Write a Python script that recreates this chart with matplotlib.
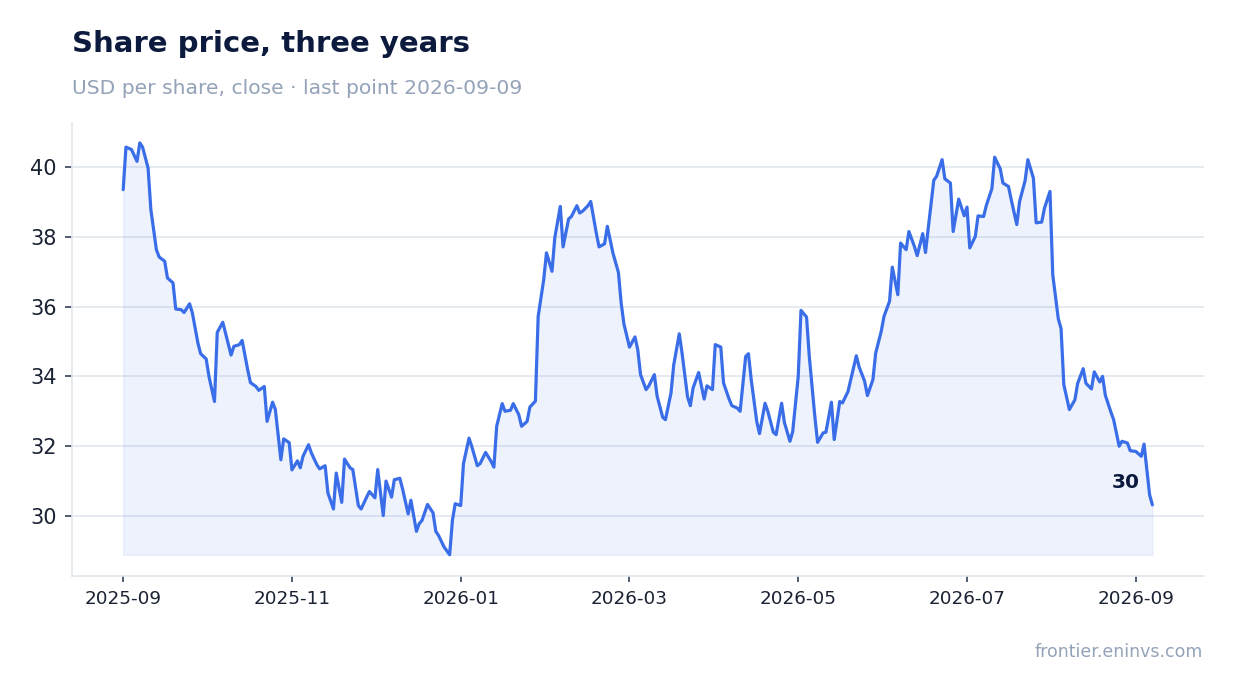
import matplotlib
matplotlib.use("Agg")
import matplotlib.pyplot as plt
import matplotlib.dates as mdates
import numpy as np
import pandas as pd

# ---- data ----
dates = [
    "2025-09-01","2025-09-02","2025-09-04","2025-09-06","2025-09-07","2025-09-08","2025-09-10","2025-09-11",
    "2025-09-13","2025-09-14","2025-09-16","2025-09-17","2025-09-19","2025-09-20","2025-09-22","2025-09-23",
    "2025-09-25","2025-09-26","2025-09-28","2025-09-29","2025-10-01","2025-10-02","2025-10-04","2025-10-05",
    "2025-10-07","2025-10-08","2025-10-10","2025-10-11","2025-10-13","2025-10-14","2025-10-16","2025-10-17",
    "2025-10-19","2025-10-20","2025-10-22","2025-10-23","2025-10-25","2025-10-26","2025-10-28","2025-10-29",
    "2025-10-31","2025-11-01","2025-11-03","2025-11-04","2025-11-05","2025-11-07","2025-11-08","2025-11-10",
    "2025-11-11","2025-11-13","2025-11-14","2025-11-16","2025-11-17","2025-11-19","2025-11-20","2025-11-22",
    "2025-11-23","2025-11-25","2025-11-26","2025-11-28","2025-11-29","2025-12-01","2025-12-02","2025-12-04",
    "2025-12-05","2025-12-07","2025-12-08","2025-12-10","2025-12-11","2025-12-13","2025-12-14","2025-12-16",
    "2025-12-17","2025-12-18","2025-12-20","2025-12-22","2025-12-23","2025-12-24","2025-12-26","2025-12-28",
    "2025-12-29","2025-12-30","2026-01-01","2026-01-02","2026-01-04","2026-01-05","2026-01-07","2026-01-08",
    "2026-01-10","2026-01-12","2026-01-13","2026-01-14","2026-01-16","2026-01-17","2026-01-19","2026-01-20",
    "2026-01-22","2026-01-23","2026-01-25","2026-01-26","2026-01-28","2026-01-29","2026-01-31","2026-02-01",
    "2026-02-03","2026-02-04","2026-02-06","2026-02-07","2026-02-09","2026-02-10","2026-02-12","2026-02-13",
    "2026-02-14","2026-02-16","2026-02-17","2026-02-19","2026-02-20","2026-02-22","2026-02-23","2026-02-25",
    "2026-02-27","2026-02-28","2026-03-01","2026-03-03","2026-03-05","2026-03-06","2026-03-07","2026-03-09",
    "2026-03-10","2026-03-12","2026-03-13","2026-03-15","2026-03-16","2026-03-18","2026-03-19","2026-03-21",
    "2026-03-22","2026-03-24","2026-03-25","2026-03-26","2026-03-28","2026-03-30","2026-03-31","2026-04-02",
    "2026-04-03","2026-04-05","2026-04-06","2026-04-08","2026-04-09","2026-04-11","2026-04-12","2026-04-14",
    "2026-04-15","2026-04-16","2026-04-18","2026-04-19","2026-04-21","2026-04-22","2026-04-24","2026-04-25",
    "2026-04-27","2026-04-28","2026-04-30","2026-05-01","2026-05-03","2026-05-04","2026-05-06","2026-05-07",
    "2026-05-09","2026-05-10","2026-05-12","2026-05-13","2026-05-15","2026-05-16","2026-05-18","2026-05-19",
    "2026-05-21","2026-05-22","2026-05-24","2026-05-25","2026-05-27","2026-05-28","2026-05-30","2026-05-31",
    "2026-06-02","2026-06-03","2026-06-05","2026-06-06","2026-06-08","2026-06-09","2026-06-11","2026-06-12",
    "2026-06-14","2026-06-15","2026-06-17","2026-06-18","2026-06-19","2026-06-21","2026-06-22","2026-06-24",
    "2026-06-25","2026-06-27","2026-06-28","2026-06-30","2026-07-02","2026-07-03","2026-07-04","2026-07-06",
    "2026-07-07","2026-07-09","2026-07-10","2026-07-12","2026-07-13","2026-07-15","2026-07-16","2026-07-18",
    "2026-07-19","2026-07-21","2026-07-22","2026-07-24","2026-07-25","2026-07-27","2026-07-28","2026-07-30",
    "2026-07-31","2026-08-02","2026-08-03","2026-08-05","2026-08-06","2026-08-07","2026-08-09","2026-08-11",
    "2026-08-12","2026-08-14","2026-08-15","2026-08-17","2026-08-18","2026-08-20","2026-08-21","2026-08-22",
    "2026-08-24","2026-08-25","2026-08-27","2026-08-28","2026-08-30","2026-08-31","2026-09-02","2026-09-04",
    "2026-09-05","2026-09-07","2026-09-08",
]
close = [
    39.35, 40.57, 40.50, 40.16, 40.69, 40.57, 39.97, 38.78,
    37.63, 37.42, 37.30, 36.82, 36.68, 35.93, 35.91, 35.83,
    36.08, 35.82, 34.96, 34.65, 34.50, 34.00, 33.28, 35.26,
    35.55, 35.24, 34.61, 34.86, 34.91, 35.03, 34.19, 33.82,
    33.71, 33.60, 33.71, 32.71, 33.26, 33.05, 31.61, 32.21,
    32.10, 31.32, 31.58, 31.38, 31.71, 32.04, 31.81, 31.47,
    31.35, 31.44, 30.66, 30.20, 31.23, 30.39, 31.63, 31.38,
    31.33, 30.30, 30.20, 30.54, 30.70, 30.52, 31.33, 30.01,
    31.00, 30.54, 31.04, 31.08, 30.77, 30.06, 30.45, 29.56,
    29.78, 29.87, 30.33, 30.09, 29.56, 29.44, 29.11, 28.89,
    29.87, 30.35, 30.30, 31.50, 32.23, 31.99, 31.44, 31.50,
    31.82, 31.56, 31.40, 32.57, 33.22, 33.00, 33.03, 33.22,
    32.90, 32.57, 32.71, 33.12, 33.29, 35.72, 36.77, 37.54,
    37.01, 37.97, 38.87, 37.71, 38.51, 38.58, 38.89, 38.68,
    38.73, 38.89, 39.01, 38.11, 37.71, 37.80, 38.30, 37.54,
    36.98, 36.10, 35.50, 34.84, 35.13, 34.76, 34.05, 33.62,
    33.73, 34.05, 33.43, 32.83, 32.76, 33.52, 34.33, 35.22,
    34.67, 33.41, 33.16, 33.67, 34.11, 33.35, 33.73, 33.62,
    34.91, 34.84, 33.81, 33.35, 33.16, 33.09, 33.00, 34.57,
    34.65, 33.91, 32.71, 32.36, 33.23, 33.00, 32.40, 32.33,
    33.23, 32.68, 32.14, 32.42, 34.00, 35.89, 35.70, 34.57,
    32.85, 32.11, 32.38, 32.40, 33.26, 32.19, 33.28, 33.24,
    33.57, 33.91, 34.59, 34.27, 33.86, 33.45, 33.91, 34.67,
    35.29, 35.72, 36.15, 37.13, 36.34, 37.82, 37.63, 38.15,
    37.72, 37.46, 38.09, 37.55, 38.25, 39.62, 39.73, 40.21,
    39.66, 39.54, 38.15, 39.08, 38.60, 38.85, 37.68, 38.01,
    38.60, 38.58, 38.90, 39.38, 40.28, 39.95, 39.54, 39.44,
    39.06, 38.35, 39.01, 39.61, 40.21, 39.68, 38.40, 38.42,
    38.82, 39.30, 36.91, 35.65, 35.37, 33.76, 33.05, 33.33,
    33.80, 34.22, 33.80, 33.64, 34.13, 33.84, 34.00, 33.46,
    32.98, 32.76, 32.00, 32.14, 32.09, 31.87, 31.85, 31.71,
    32.06, 30.61, 30.32,
]
tick_dates = ["2025-09-01", "2025-11-01", "2026-01-01", "2026-03-03",
              "2026-05-03", "2026-07-03", "2026-09-02"]
y_ticks = [30, 32, 34, 36, 38, 40]

title = "Share price, three years"
subtitle = "USD per share, close \u00b7 last point 2026-09-09"
source = "frontier.eninvs.com"

# ---- styling ----
LINE = "#3a6ee8"
NAVY = "#0c1a3d"
GRAY = "#94a3b8"
GRID = "#e2e8f0"
TICK = "#1a2233"

plt.rcParams["font.family"] = ["DejaVu Sans"]

x = pd.to_datetime(dates)
y = np.array(close)

W, H = 1234, 693
fig = plt.figure(figsize=(W / 100, H / 100), dpi=100)
ax = fig.add_axes([72 / W, 1 - 576 / H, (1204 - 72) / W, (576 - 123) / H])

ax.fill_between(x, y, y.min(), color=LINE, alpha=0.085, linewidth=1.0,
                edgecolor=(0.23, 0.43, 0.91, 0.10))
ax.plot(x, y, color=LINE, linewidth=2.3, solid_joinstyle="round", solid_capstyle="round", zorder=3)

ax.set_xlim(pd.Timestamp("2025-08-13 12:00"), pd.Timestamp("2026-09-26 16:00"))
ax.set_ylim(28.28, 41.26)

ax.set_yticks(y_ticks)
ax.set_yticklabels([str(v) for v in y_ticks])
ax.set_xticks(pd.to_datetime(tick_dates))
ax.xaxis.set_major_formatter(mdates.DateFormatter("%Y-%m"))

ax.grid(axis="y", color=GRID, linewidth=1.2)
ax.grid(axis="x", visible=False)
ax.set_axisbelow(True)

for s in ["top", "right"]:
    ax.spines[s].set_visible(False)
for s in ["left", "bottom"]:
    ax.spines[s].set_color(GRID)
    ax.spines[s].set_linewidth(1.2)

ax.tick_params(axis="y", length=5, width=1.2, color="#334155", labelsize=15,
               labelcolor=TICK, pad=6)
ax.tick_params(axis="x", length=4, width=1.2, color="#334155", labelsize=13.2,
               labelcolor=TICK, pad=6)

ax.annotate(f"{y[-1]:.0f}", xy=(x[-1], y[-1]), xytext=(-9, 16),
            textcoords="offset points", ha="right", va="center",
            fontsize=14.5, fontweight="bold", color=NAVY)

fig.text(72 / W, 1 - 44 / H, title, fontsize=21, fontweight="bold",
         color=NAVY, va="center", ha="left")
fig.text(72 / W, 1 - 88 / H, subtitle, fontsize=14.6, color=GRAY,
         va="center", ha="left")
fig.text(1203 / W, 1 - 652 / H, source, fontsize=12.5, color=GRAY,
         va="center", ha="right")

fig.savefig("out.png", dpi=100)
